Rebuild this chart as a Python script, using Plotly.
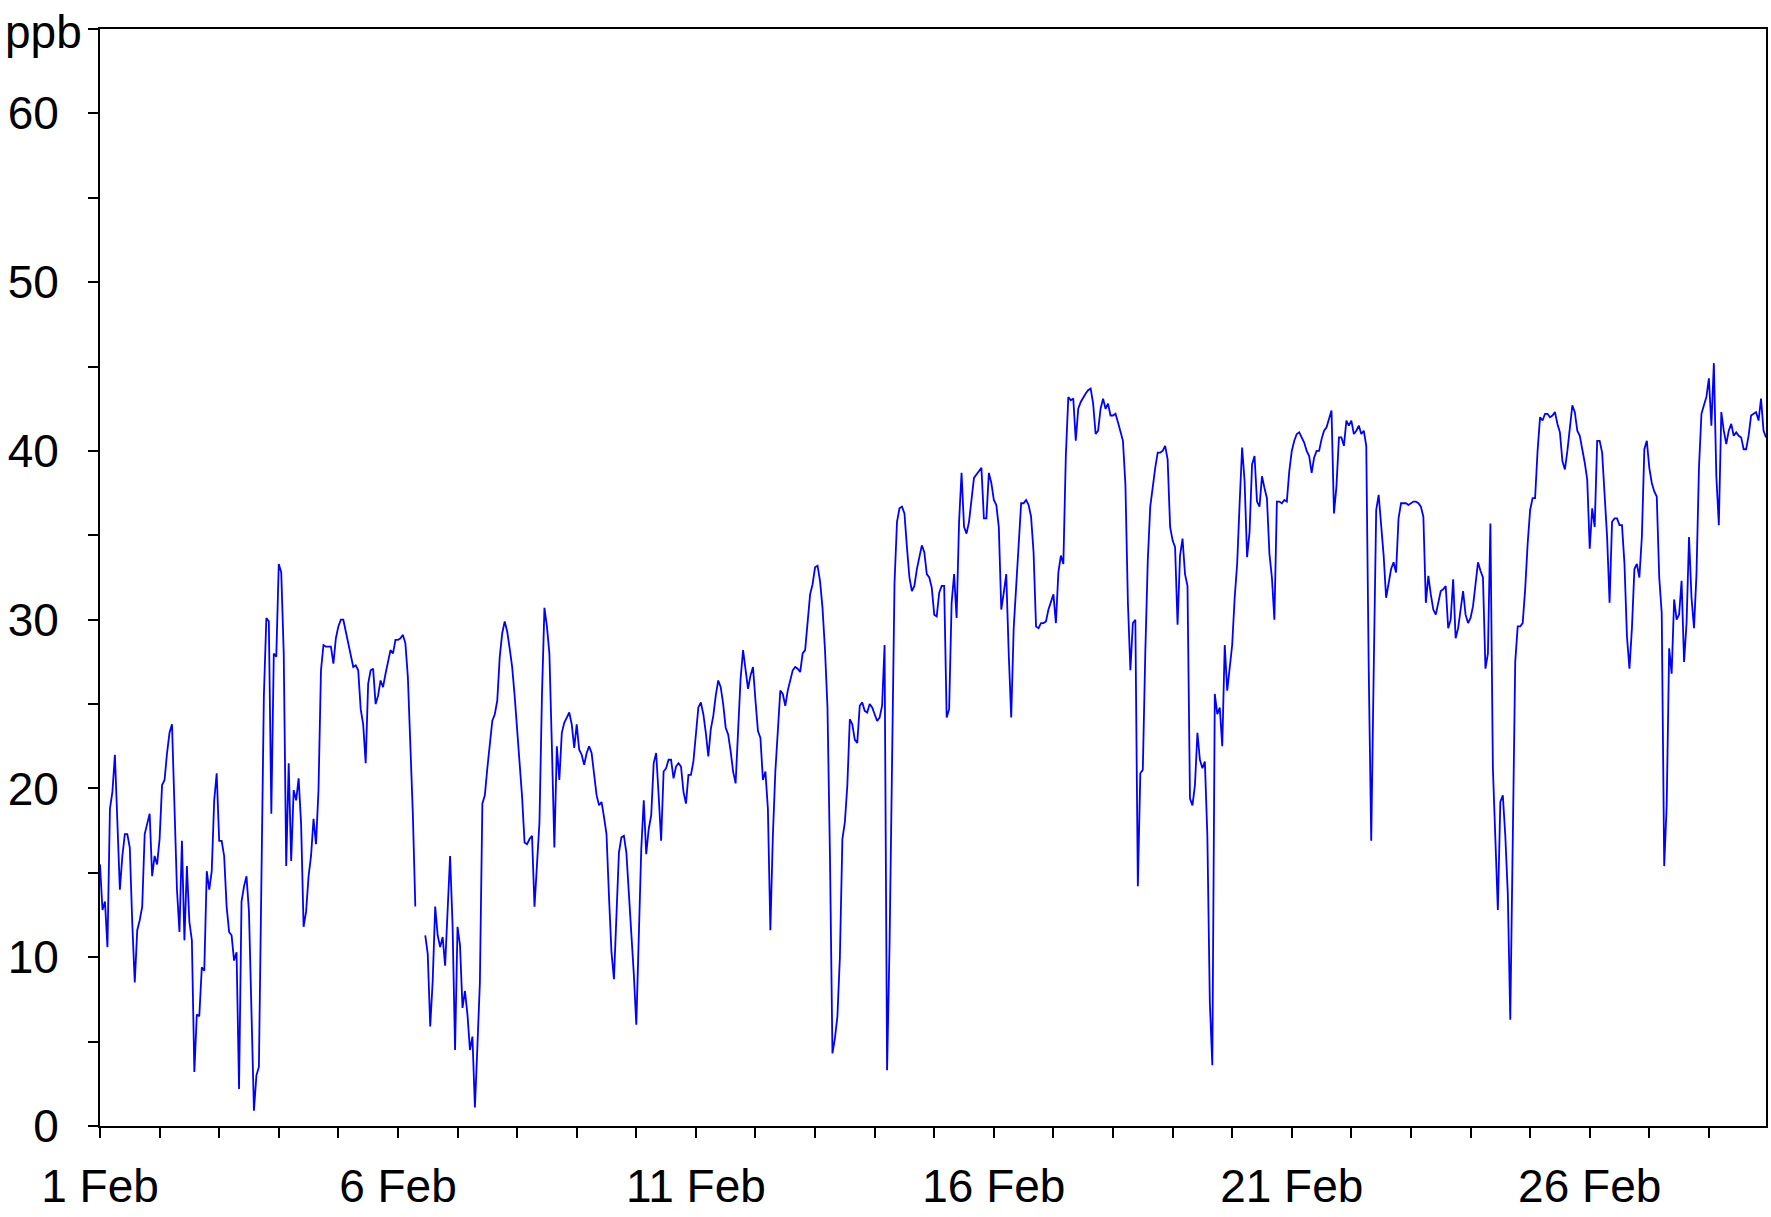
import pandas as pd
import plotly.graph_objects as go

# Hourly concentrations (ppb), one list per day
day01 = [15.5, 12.8, 13.3, 10.6, 18.8, 19.8, 22, 18, 14, 16, 17.3, 17.3, 16.5, 12, 8.5, 11.6, 12.2, 13, 17.3, 17.9, 18.5, 14.8, 16, 15.5]
day02 = [17, 20.2, 20.5, 22.1, 23.3, 23.8, 19.5, 14, 11.5, 16.9, 11, 15.4, 12.1, 11, 3.2, 6.6, 6.5, 9.4, 9.2, 15.1, 14, 15.1, 19.3, 20.9]
day03 = [16.9, 16.9, 16, 13, 11.5, 11.3, 9.8, 10.3, 2.2, 13.3, 14.2, 14.8, 12.7, 7.3, 0.9, 3, 3.5, 14.5, 25.5, 30.1, 29.9, 18.5, 28, 27.8]
day04 = [33.3, 32.8, 28, 15.4, 21.5, 15.7, 19.9, 19.3, 20.6, 17.9, 11.8, 12.7, 14.8, 16, 18.2, 16.7, 19.9, 27, 28.5, 28.4, 28.4, 28.4, 27.4, 28.9]
day05 = [29.6, 30, 30, 29.3, 28.6, 27.8, 27.2, 27.3, 27, 24.7, 23.8, 21.5, 26.2, 27, 27.1, 25, 25.5, 26.4, 26, 26.8, 27.6, 28.2, 28, 28.8]
day06 = [28.8, 28.9, 29.1, 28.6, 26.6, 22.5, 18.5, 13, None, None, None, 11.3, 10.2, 5.9, 8.6, 13, 11.3, 10.6, 11.2, 9.5, 12.4, 16, 11.9, 4.5]
day07 = [11.8, 10.7, 7, 8, 6.6, 4.5, 5.3, 1.1, 4.7, 8.5, 19.1, 19.6, 21.2, 22.8, 24, 24.4, 25.2, 27.8, 29.2, 29.9, 29.3, 28.3, 27.2, 25.5]
day08 = [23.4, 21.8, 19.5, 16.8, 16.7, 17, 17.2, 13, 15.4, 18, 25.5, 30.7, 29.6, 28, 22.5, 16.5, 22.5, 20.5, 23.3, 23.9, 24.2, 24.5, 23.8, 22.4]
day09 = [23.8, 22.3, 22, 21.4, 22.1, 22.5, 22.1, 20.7, 19.6, 19, 19.2, 18.3, 17.3, 13.6, 10.3, 8.7, 12, 16.2, 17.1, 17.2, 16.2, 14, 11.3, 9]
day10 = [6, 12, 16.4, 19.3, 16.1, 17.6, 18.4, 21.5, 22.1, 19.6, 16.9, 21, 21.2, 21.7, 21.7, 20.6, 21.3, 21.5, 21.3, 19.8, 19.1, 20.8, 20.8, 21.6]
day11 = [23.3, 24.8, 25.1, 24.4, 23.3, 21.9, 23.5, 24.3, 25.5, 26.4, 26, 25, 23.6, 23.2, 22.2, 21, 20.3, 23, 26.5, 28.2, 27.1, 25.9, 26.7, 27.2]
day12 = [25.2, 23.4, 23, 20.5, 21, 18.8, 11.6, 17.2, 21, 23.3, 25.8, 25.6, 24.9, 25.8, 26.5, 27, 27.2, 27.1, 26.9, 28, 28.2, 30, 31.5, 32.1]
day13 = [33.1, 33.2, 32.3, 30.7, 28.2, 24.8, 16, 4.3, 5.2, 6.5, 10, 17, 18, 20.2, 24.1, 23.8, 22.9, 22.7, 24.9, 25.1, 24.6, 24.5, 25, 24.8]
day14 = [24.4, 24, 24.2, 24.9, 28.5, 3.3, 10.7, 23, 32.2, 35.8, 36.6, 36.7, 36.3, 34.3, 32.5, 31.7, 32, 33, 33.8, 34.4, 34, 32.7, 32.5, 31.9]
day15 = [30.3, 30.2, 31.6, 32, 32, 24.2, 24.7, 31, 32.7, 30.1, 35.8, 38.7, 35.5, 35.1, 35.8, 37, 38.4, 38.6, 38.8, 39, 36, 36, 38.7, 38.1]
day16 = [37.1, 36.8, 35.5, 30.6, 31.6, 32.7, 28, 24.2, 29.5, 32.2, 35, 36.9, 36.9, 37.1, 36.8, 36.1, 34, 29.6, 29.5, 29.8, 29.8, 29.9, 30.6, 31]
day17 = [31.5, 29.8, 32.8, 33.8, 33.3, 39.7, 43.2, 43, 43.1, 40.6, 42.5, 42.9, 43.2, 43.4, 43.6, 43.7, 42.8, 41, 41.2, 42.5, 43.1, 42.5, 42.8, 42.1]
day18 = [42.1, 42.2, 41.7, 41.2, 40.6, 38, 31, 27, 29.8, 30, 14.2, 20.9, 21.1, 28, 33.5, 36.7, 38, 39, 39.9, 39.9, 40, 40.3, 39.5, 35.5]
day19 = [34.7, 34.3, 29.7, 33.8, 34.8, 32.7, 32, 19.4, 19, 20.2, 23.3, 21.7, 21.2, 21.6, 17.2, 7.3, 3.6, 25.6, 24.4, 24.8, 22.5, 28.5, 25.8, 27.3]
day20 = [28.5, 31.3, 33.3, 36.9, 40.2, 38.2, 33.7, 35.2, 39.2, 39.7, 37, 36.7, 38.5, 37.8, 37.2, 33.9, 32.5, 30, 37, 37, 36.9, 37.1, 37, 38.8]
day21 = [40, 40.6, 41, 41.1, 40.8, 40.5, 40, 39.7, 38.7, 39.6, 40, 40, 40.7, 41.2, 41.4, 41.9, 42.4, 36.3, 37.9, 40.8, 40.8, 40.3, 41.8, 41.5]
day22 = [41.8, 41, 41.2, 41.5, 41, 41.2, 40.3, 27, 16.9, 27, 36.5, 37.4, 35.7, 33.8, 31.3, 32.2, 33, 33.4, 32.8, 36, 36.9, 36.9, 36.9, 36.8]
day23 = [36.9, 37, 37, 36.9, 36.7, 36.1, 31, 32.6, 31.5, 30.6, 30.3, 31.1, 31.7, 31.8, 32, 29.5, 30, 32.4, 28.9, 29.5, 30.6, 31.7, 30.3, 29.8]
day24 = [30.1, 30.8, 32.1, 33.4, 32.9, 32.5, 27.1, 28, 35.7, 21.2, 17, 12.8, 19.2, 19.6, 17.2, 13.8, 6.3, 16, 27.5, 29.6, 29.6, 29.8, 31.8, 34.5]
day25 = [36.5, 37.2, 37.2, 40, 42, 41.8, 42.2, 42.2, 42, 42.1, 42.3, 41.6, 41.1, 39.4, 38.9, 40, 41.5, 42.7, 42.3, 41.2, 40.9, 40.2, 39.3, 38.3]
day26 = [34.2, 36.6, 35.5, 40.6, 40.6, 39.9, 37.6, 34.9, 31, 35.8, 36, 36, 35.6, 35.6, 33.3, 29, 27.1, 29.5, 33, 33.3, 32.5, 34.9, 40.1, 40.6]
day27 = [39, 38.1, 37.6, 37.3, 32.5, 30.4, 15.4, 19, 28.3, 26.8, 31.2, 30, 30.3, 32.3, 27.5, 29.8, 34.9, 31.3, 29.5, 32.7, 39, 42.2, 42.7, 43.2]
day28 = [44.3, 41.5, 45.2, 38.5, 35.6, 42.3, 41.2, 40.4, 41.2, 41.6, 40.9, 41.1, 40.9, 40.8, 40.1, 40.1, 40.9, 42.1, 42.2, 42.3, 41.8, 43.1, 41.2, 40.8]

days = [day01, day02, day03, day04, day05, day06, day07, day08, day09, day10,
        day11, day12, day13, day14, day15, day16, day17, day18, day19, day20,
        day21, day22, day23, day24, day25, day26, day27, day28]
values = [v for d in days for v in d]

times = pd.date_range("2023-02-01 00:00", periods=len(values), freq="h")

x_tick_dates = ["2023-02-01", "2023-02-06", "2023-02-11", "2023-02-16", "2023-02-21", "2023-02-26"]
x_tick_labels = ["1 Feb", "6 Feb", "11 Feb", "16 Feb", "21 Feb", "26 Feb"]
y_tick_vals = [0, 10, 20, 30, 40, 50, 60]
y_tick_labels = ["0", "10", "20", "30", "40", "50", "60"]

FONT = "Liberation Sans, Arial, sans-serif"

fig = go.Figure()
fig.add_trace(go.Scatter(
    x=times, y=values, mode="lines",
    line=dict(color="#0000FF", width=1.8),
    connectgaps=False, showlegend=False,
))

fig.update_layout(
    width=1771, height=1217,
    margin=dict(l=100, r=5, t=29, b=91, autoexpand=False),
    paper_bgcolor="white", plot_bgcolor="white",
    font=dict(family=FONT, size=46, color="black"),
    showlegend=False,
)

fig.update_xaxes(
    automargin=False,
    range=[times[0], times[-1]],
    tickmode="array", tickvals=x_tick_dates, ticktext=x_tick_labels,
    ticks="outside", ticklen=10, tickwidth=2, tickcolor="black",
    ticklabelstandoff=9,
    minor=dict(dtick=86400000, tick0="2023-02-01", ticks="outside", ticklen=10, tickwidth=2, tickcolor="black"),
    showline=True, linecolor="black", linewidth=2, mirror=True,
    showgrid=False, zeroline=False,
    tickfont=dict(family=FONT, size=46, color="black"),
)
fig.update_yaxes(
    automargin=False,
    range=[0, 65],
    tickmode="array", tickvals=y_tick_vals, ticktext=y_tick_labels,
    ticks="outside", ticklen=10, tickwidth=2, tickcolor="black",
    ticklabelstandoff=20,
    minor=dict(dtick=5, tick0=0, ticks="outside", ticklen=10, tickwidth=2, tickcolor="black"),
    showline=True, linecolor="black", linewidth=2, mirror=True,
    showgrid=False, zeroline=False,
    tickfont=dict(family=FONT, size=46, color="black"),
)

fig.add_annotation(
    text="ppb", xref="paper", yref="paper",
    x=-0.0096, y=0.9973, xanchor="right", yanchor="middle",
    showarrow=False, font=dict(family=FONT, size=46, color="black"),
)

fig.write_html(
    "out.html",
    config={"displayModeBar": False},
    post_script="document.body.style.margin='0';document.body.style.padding='0';document.body.style.overflow='hidden';",
)
